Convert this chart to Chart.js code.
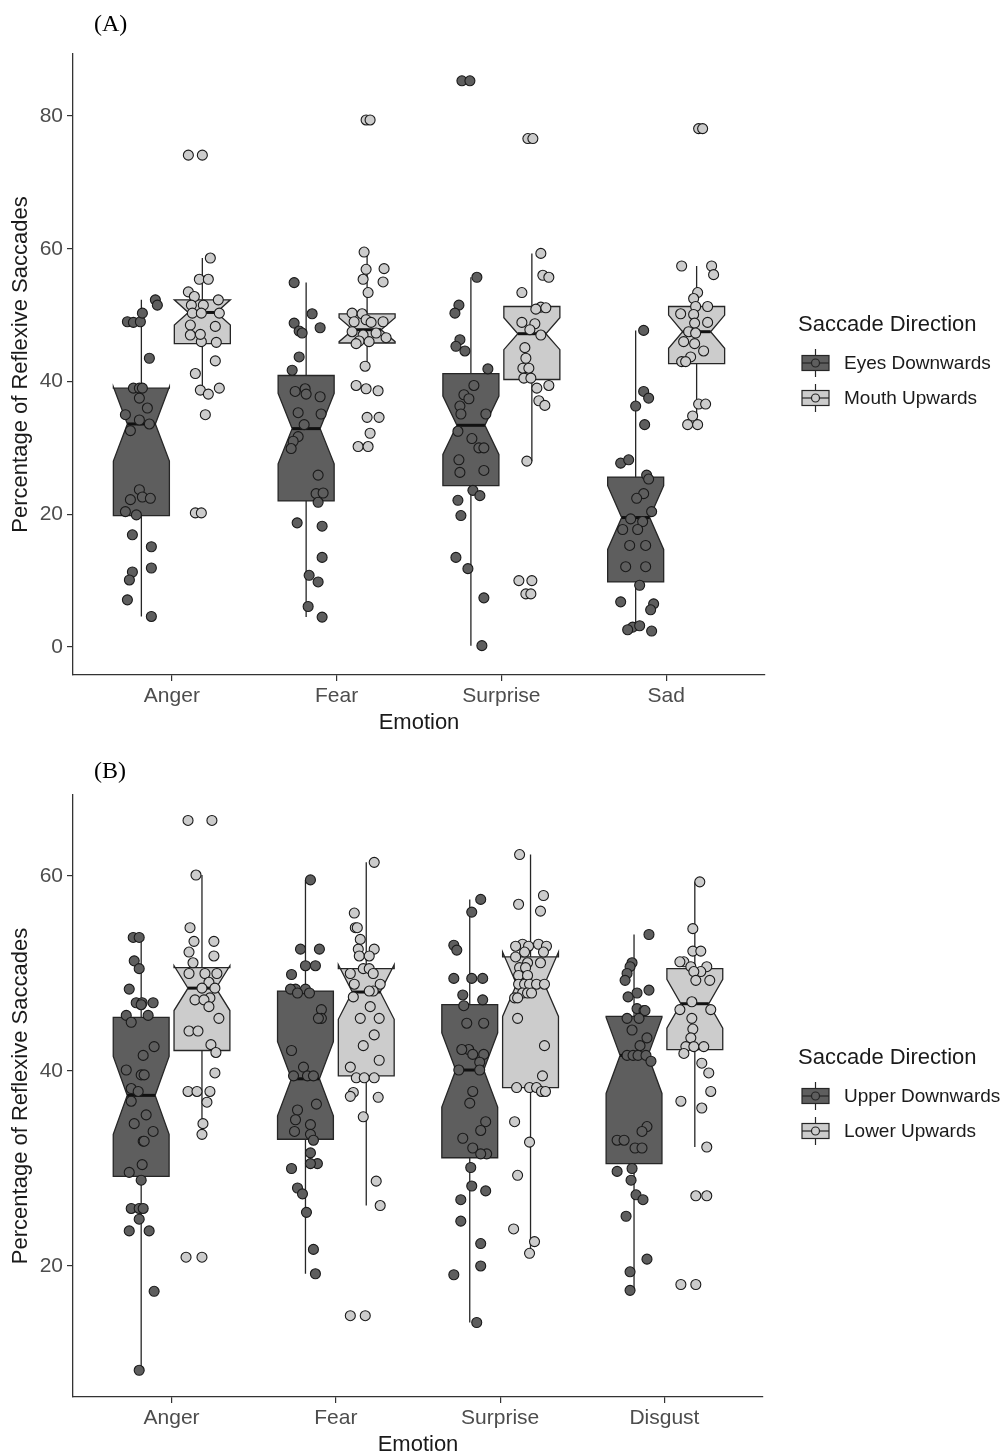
<!DOCTYPE html>
<html><head><meta charset="utf-8">
<script src="https://cdn.jsdelivr.net/npm/chart.js@4.4.0/dist/chart.umd.min.js"></script>
<style>
html,body{margin:0;padding:0;background:#fff;}
#wrap{position:relative;width:1008px;height:1456px;overflow:hidden;background:#fff;}
canvas{position:absolute;left:0;}
#cA{top:0}
#cB{top:740px}
.lab{position:absolute;font-family:'Liberation Serif','Times New Roman',serif;font-size:24px;color:#000;line-height:28px;}
</style></head><body>
<div id="wrap">
<canvas id="cA" width="1008" height="740"></canvas>
<canvas id="cB" width="1008" height="716"></canvas>
<div class="lab" style="left:94px;top:9px">(A)</div>
<div class="lab" style="left:94px;top:756px">(B)</div>
</div>
<script>
// ---------------- DATA ----------------
const categoriesA = ['Anger','Fear','Surprise','Sad'];
const categoriesB = ['Anger','Fear','Surprise','Disgust'];
const seriesNamesA = ['Eyes Downwards','Mouth Upwards'];
const seriesNamesB = ['Upper Downwards','Lower Upwards'];
const legendTitle = 'Saccade Direction';
const xTitle = 'Emotion';
const yTitle = 'Percentage of Reflexive Saccades';
const yTicksA = [0,20,40,60,80];
const yTicksB = [20,40,60];

// Panel A - Eyes Downwards : participant values per emotion
const eyesDownValues = [
  [52.3,51.5,49.0,48.9,49.0,50.3,43.5,39.0,39.0,39.0,37.5,36.0,35.0,34.2,33.6,32.6,23.7,22.2,22.6,22.4,20.4,19.9,16.9,15.1,11.9,11.3,10.1,7.1,4.6],
  [54.9,50.2,48.8,47.6,47.3,48.1,43.7,41.7,38.5,38.9,38.1,37.7,35.3,35.1,33.5,31.7,31.0,29.9,25.9,23.1,23.2,21.8,18.7,18.2,13.5,10.8,9.8,6.1,4.5],
  [85.3,85.3,55.7,51.5,50.3,46.3,45.3,44.6,41.9,39.4,38.0,37.4,36.3,35.1,35.1,32.5,31.4,30.0,30.0,28.2,26.3,26.6,23.6,22.8,22.1,19.8,13.5,11.8,7.4,0.2],
  [47.7,38.5,37.5,36.3,33.5,27.7,28.2,25.9,25.3,23.1,22.4,20.4,19.3,18.9,17.7,17.7,15.3,15.3,12.1,12.1,9.3,6.8,6.5,5.6,3.0,3.2,2.4,2.6]
];
const eyesDownJitter = [
  [14,16,-14,-8,-1,1,8,-8,-2,1,-2,6,-16,-2,8,-11,-2,-11,1,9,-16,-5,-9,10,10,-9,-12,-14,10],
  [-12,6,-12,-7,-4,14,-7,-14,-11,-1,0,14,-8,15,-2,-8,-13,-15,12,10,17,12,-9,16,16,3,12,2,16],
  [-9,-1,6,-12,-16,-11,-15,-6,17,3,-7,-2,-11,-10,15,-13,1,8,13,-12,-11,13,2,9,-13,-10,-15,-3,13,11],
  [8,8,13,0,9,-15,-7,11,13,8,1,16,-5,7,-13,2,-6,10,-10,10,4,-15,18,15,-3,4,16,-8]
];
// [lower whisker, Q1, notch low, median, notch high, Q3, upper whisker]
const eyesDownBox = [
  [4.6,19.8,28.0,33.6,39.2,39.0,52.3],
  [4.5,22.0,27.6,32.9,38.2,40.9,54.9],
  [0.2,24.3,29.0,33.4,37.8,41.2,55.7],
  [2.4,9.8,14.7,19.5,24.3,25.6,47.7]
];

// Panel A - Mouth Upwards
const mouthUpValues = [
  [74.1,74.1,58.6,55.4,55.4,53.5,52.8,52.3,51.5,51.5,50.3,50.3,50.3,48.5,48.3,47.0,46.0,45.9,47.1,43.1,41.2,38.7,38.1,39.0,35.0,20.2,20.2],
  [79.4,79.4,59.5,56.9,55.4,57.0,55.0,53.4,50.3,50.2,49.0,49.3,48.9,49.0,47.5,47.0,47.3,46.6,46.1,46.0,45.7,42.3,39.4,38.9,38.6,34.6,34.6,32.2,30.2,30.2],
  [76.6,76.6,59.3,56.0,55.7,53.4,51.2,50.9,51.1,48.9,48.7,47.8,47.0,45.1,43.5,42.0,42.0,40.5,40.5,39.4,39.0,37.1,36.4,28.0,10.0,10.0,8.0,8.0],
  [78.1,78.1,57.4,57.4,56.1,53.4,52.5,51.3,51.3,50.2,50.1,48.8,48.9,47.5,47.3,46.0,45.7,44.6,43.7,43.0,43.0,36.6,36.6,34.8,33.5,33.5]
];
const mouthUpJitter = [
  [-14,0,8,-3,6,-14,-8,16,-11,1,17,-10,-1,-12,13,-12,-1,14,-2,13,-7,-2,6,17,3,-7,-1],
  [-1,3,-3,-1,-4,17,16,1,-15,-5,-13,-1,4,16,-15,-4,9,19,-8,2,-11,-2,-11,-1,11,0,12,3,-9,1],
  [-4,1,9,11,17,-10,9,4,14,-10,3,-2,9,-7,-6,-9,-3,-8,-1,17,5,7,13,-5,-13,0,-6,-1],
  [2,6,-15,15,17,1,-3,11,-1,-16,-3,-2,11,-8,-1,-13,-2,7,-6,-15,-11,2,9,-4,-9,1]
];
const mouthUpBox = [
  [38.1,45.7,48.5,50.4,52.3,52.3,58.6],
  [42.3,45.8,46.0,47.8,49.6,50.2,59.5],
  [28.0,40.3,44.8,47.2,49.6,51.3,59.3],
  [33.5,42.7,45.0,47.5,50.0,51.3,57.4]
];

// Panel B - Upper Downwards
const upperDownValues = [
  [53.7,53.7,51.3,50.5,48.4,47.0,47.0,47.0,46.8,45.7,45.7,45.0,42.5,41.6,40.1,39.6,39.6,38.2,37.9,36.9,35.5,34.6,33.8,32.8,32.8,30.4,29.6,28.8,25.9,25.9,25.9,24.8,23.6,23.6,17.4,9.3],
  [59.6,52.5,52.5,50.8,50.8,49.9,48.4,48.4,48.4,48.0,48.0,46.3,45.4,45.4,42.1,40.4,39.5,39.5,39.5,36.6,36.0,35.0,34.5,33.8,33.5,32.9,31.6,30.5,30.5,30.0,28.0,27.4,25.5,21.7,19.2],
  [57.6,56.3,52.9,52.4,49.5,49.5,49.5,47.8,47.3,46.7,44.9,44.9,42.2,42.2,41.7,41.7,40.9,40.1,40.1,37.9,36.7,34.8,33.9,33.1,32.1,31.5,31.5,30.1,28.2,27.7,26.8,24.6,22.3,20.0,19.1,14.2],
  [54.0,51.1,50.7,50.0,49.3,48.3,48.0,47.6,46.4,46.2,46.2,45.4,45.4,44.2,43.4,42.6,41.6,41.6,41.6,41.6,41.0,34.3,33.8,32.9,32.9,32.1,32.1,30.0,29.7,28.8,27.3,26.8,25.1,20.7,19.4,17.5]
];
const upperDownJitter = [
  [-8,-2,-7,-2,-12,-5,1,12,0,-15,7,-10,13,2,-15,0,3,-10,-3,-10,5,-7,12,2,3,1,-12,0,-10,-2,2,-2,-12,8,13,-2],
  [5,-5,14,0,10,-14,-10,0,-15,-8,4,16,16,13,-14,-2,-12,2,8,11,-8,-10,5,-11,5,8,5,12,5,-14,-8,-3,1,8,10],
  [11,2,-16,-13,-16,2,13,-7,13,-6,-3,14,-1,-8,14,3,10,-11,10,3,0,16,11,-7,3,17,11,1,2,16,-9,-9,11,11,-16,7],
  [15,-2,-4,-7,-9,15,3,-6,3,10,11,-7,5,-2,13,6,-7,-1,4,12,17,13,8,-17,-10,1,8,-2,-17,-3,2,9,-8,13,-4,-4]
];
const upperDownBox = [
  [9.3,29.2,33.5,37.5,41.5,45.5,53.7],
  [19.2,33.0,35.4,39.2,43.0,48.2,59.6],
  [14.2,31.1,36.3,40.1,43.9,46.8,57.6],
  [17.5,30.5,37.7,41.6,45.5,45.6,54.0]
];

// Panel B - Lower Upwards
const lowerUpValues = [
  [65.7,65.7,60.1,54.7,53.3,53.3,52.2,51.8,51.1,50.0,50.0,50.0,49.1,48.5,48.5,47.5,47.3,47.3,46.6,45.4,44.1,44.1,42.7,41.9,39.8,37.9,37.9,37.9,36.8,34.6,33.5,20.9,20.9],
  [61.4,56.2,54.7,54.7,53.5,52.5,52.5,51.8,51.8,50.5,50.5,50.0,50.0,48.9,48.9,48.2,48.2,47.6,46.6,45.4,45.4,43.7,42.6,41.1,40.4,39.3,39.3,39.3,37.8,37.4,37.3,35.3,28.7,26.2,14.9,14.9],
  [62.2,58.0,57.1,56.4,53.0,53.0,52.8,52.8,52.8,52.2,52.2,51.7,51.1,51.1,50.6,50.6,49.8,49.8,48.9,48.9,48.9,48.9,48.9,48.0,48.0,48.0,47.5,47.5,45.4,42.6,39.5,38.3,38.3,38.3,37.9,37.9,34.8,32.7,29.3,23.8,22.5,21.3],
  [59.4,54.6,52.3,52.3,51.2,51.2,50.7,50.7,50.2,50.2,49.3,49.3,47.1,46.3,46.3,45.4,44.3,43.4,42.5,42.5,42.5,41.8,40.8,39.8,37.9,36.9,36.2,32.2,27.2,27.2,18.1,18.1]
];
const lowerUpJitter = [
  [-14,10,-6,-12,12,-8,-13,12,-9,-13,3,15,7,0,13,8,-7,2,7,17,-13,-4,9,14,13,-14,-5,8,5,1,0,-16,0],
  [8,-12,-11,-9,-6,8,-8,-7,3,-3,3,-16,7,-12,14,7,3,-13,4,-6,13,8,-3,13,-16,-10,-2,8,-13,-16,12,-3,10,14,-16,-1],
  [-11,13,-12,10,-8,8,-15,16,-2,-6,13,-15,10,-3,-11,-5,-12,-3,-12,-6,-1,6,14,-8,-3,1,-16,-13,-13,14,12,-14,-1,6,11,15,-16,-1,-13,-17,4,-1],
  [5,-2,-2,6,-11,-15,-4,12,6,-1,15,1,-3,-15,16,-3,-2,-4,-9,-1,9,-11,7,14,16,-14,7,12,1,12,-14,1]
];
const lowerUpBox = [
  [33.5,42.1,46.2,48.5,50.8,50.6,60.1],
  [26.2,39.5,45.3,48.1,50.9,50.5,61.4],
  [21.3,38.3,45.6,48.9,52.2,51.7,62.2],
  [32.2,42.2,44.4,46.9,49.4,50.5,59.4]
];

// ---------------- STYLE ----------------
const DARK = '#5e5e5e', LIGHT = '#cccccc', EDGE = '#262626';
const FONT = "'Liberation Sans', Arial, sans-serif";
const DODGE = 0.185, BOX_W = 0.34, PX_PER_CAT = 165;

function buildPoints(values, jitter, side) {
  const out = [];
  values.forEach((arr, ci) => arr.forEach((v, i) => out.push({x: ci + side * DODGE + jitter[ci][i] / PX_PER_CAT, y: v})));
  return out;
}

function makeBoxPlugin(groups) {
  return {
    id: 'notchBoxes',
    beforeDatasetsDraw(chart) {
      const {ctx, scales: {x, y}} = chart;
      ctx.save();
      groups.forEach(g => {
        g.box.forEach((s, ci) => {
          const [mn, q1, nl, md, nh, q3, mx] = s;
          const c = ci + g.side * DODGE;
          const xl = x.getPixelForValue(c - BOX_W / 2), xr = x.getPixelForValue(c + BOX_W / 2), xc = x.getPixelForValue(c);
          const ins = (xr - xl) * 0.25;
          const Y = v => y.getPixelForValue(v);
          ctx.strokeStyle = EDGE; ctx.lineWidth = 1.3;
          ctx.beginPath();
          ctx.moveTo(xc, Y(q3)); ctx.lineTo(xc, Y(mx));
          ctx.moveTo(xc, Y(q1)); ctx.lineTo(xc, Y(mn));
          ctx.stroke();
          ctx.beginPath();
          ctx.moveTo(xl, Y(q3)); ctx.lineTo(xr, Y(q3)); ctx.lineTo(xr, Y(nh)); ctx.lineTo(xr - ins, Y(md));
          ctx.lineTo(xr, Y(nl)); ctx.lineTo(xr, Y(q1)); ctx.lineTo(xl, Y(q1)); ctx.lineTo(xl, Y(nl));
          ctx.lineTo(xl + ins, Y(md)); ctx.lineTo(xl, Y(nh)); ctx.closePath();
          ctx.fillStyle = g.fill; ctx.fill(); ctx.stroke();
          ctx.lineWidth = 3; ctx.strokeStyle = '#111';
          ctx.beginPath(); ctx.moveTo(xl + ins, Y(md)); ctx.lineTo(xr - ins, Y(md)); ctx.stroke();
        });
      });
      ctx.restore();
    }
  };
}

function makeLegendPlugin(names, fills, top) {
  return {
    id: 'keyLegend',
    afterDraw(chart) {
      const ctx = chart.ctx;
      ctx.save();
      ctx.fillStyle = '#1a1a1a'; ctx.textBaseline = 'middle'; ctx.textAlign = 'left';
      ctx.font = '22px ' + FONT;
      ctx.fillText(legendTitle, 798, top);
      names.forEach((n, i) => {
        const cy = top + 38 + i * 35, x0 = 802;
        ctx.strokeStyle = EDGE; ctx.lineWidth = 1.2;
        ctx.beginPath(); ctx.moveTo(x0 + 13.5, cy - 14); ctx.lineTo(x0 + 13.5, cy + 14); ctx.stroke();
        ctx.fillStyle = fills[i]; ctx.fillRect(x0, cy - 7.5, 27, 15); ctx.strokeRect(x0, cy - 7.5, 27, 15);
        ctx.beginPath(); ctx.moveTo(x0, cy); ctx.lineTo(x0 + 27, cy); ctx.stroke();
        ctx.beginPath(); ctx.arc(x0 + 13.5, cy, 4, 0, Math.PI * 2); ctx.fillStyle = fills[i]; ctx.fill(); ctx.stroke();
        ctx.fillStyle = '#1a1a1a'; ctx.font = '19px ' + FONT;
        ctx.fillText(n, 844, cy + 1);
      });
      ctx.restore();
    }
  };
}

function buildPanel(id, cats, names, groups, yMin, yMax, yTicks, lay) {
  const datasets = groups.map((g, i) => ({
    label: names[i],
    data: buildPoints(g.values, g.jitter, g.side),
    backgroundColor: g.fill, borderColor: '#1a1a1a', borderWidth: 1.1,
    pointRadius: 5, pointHoverRadius: 5, showLine: false
  }));
  return new Chart(document.getElementById(id), {
    type: 'scatter',
    data: {datasets},
    plugins: [makeBoxPlugin(groups), makeLegendPlugin(names, groups.map(g => g.fill), lay.legendTop)],
    options: {
      responsive: false, animation: false, events: [],
      layout: {padding: {left: 0, top: lay.top, right: lay.right, bottom: 0}},
      plugins: {legend: {display: false}, tooltip: {enabled: false}},
      scales: {
        x: {
          type: 'linear', min: -0.6, max: 3.6,
          afterBuildTicks: s => { s.ticks = cats.map((c, i) => ({value: i})); },
          afterFit: s => { s.height = lay.xh; },
          ticks: {callback: v => cats[v], font: {family: FONT, size: 21}, color: '#4d4d4d', padding: 3, maxRotation: 0, autoSkip: false},
          grid: {drawOnChartArea: false, drawTicks: true, tickLength: 6, color: '#333', lineWidth: 1.2},
          border: {display: true, color: '#333', width: 1.3},
          title: {display: true, text: xTitle, font: {family: FONT, size: 22, lineHeight: 1.0}, color: '#1a1a1a', padding: {top: 0, bottom: lay.xtpad}}
        },
        y: {
          min: yMin, max: yMax,
          afterBuildTicks: s => { s.ticks = yTicks.map(v => ({value: v})); },
          afterFit: s => { s.width = 73; },
          ticks: {font: {family: FONT, size: 21}, color: '#4d4d4d', padding: 4},
          grid: {drawOnChartArea: false, drawTicks: true, tickLength: 6, color: '#333', lineWidth: 1.2},
          border: {display: true, color: '#333', width: 1.3},
          title: {display: true, text: yTitle, font: {family: FONT, size: 22, lineHeight: 1.2}, color: '#1a1a1a', padding: {top: 8, bottom: 0}}
        }
      }
    }
  });
}

buildPanel('cA', categoriesA, seriesNamesA, [
  {values: eyesDownValues, jitter: eyesDownJitter, box: eyesDownBox, side: -1, fill: DARK},
  {values: mouthUpValues, jitter: mouthUpJitter, box: mouthUpBox, side: 1, fill: LIGHT}
], -4.22, 89.34, yTicksA, {top: 54, right: 243, xh: 65, xtpad: 6, legendTop: 325});

buildPanel('cB', categoriesB, seriesNamesB, [
  {values: upperDownValues, jitter: upperDownJitter, box: upperDownBox, side: -1, fill: DARK},
  {values: lowerUpValues, jitter: lowerUpJitter, box: lowerUpBox, side: 1, fill: LIGHT}
], 6.56, 68.31, yTicksB, {top: 55, right: 245, xh: 59, xtpad: 0, legendTop: 318});
</script>
</body></html>
